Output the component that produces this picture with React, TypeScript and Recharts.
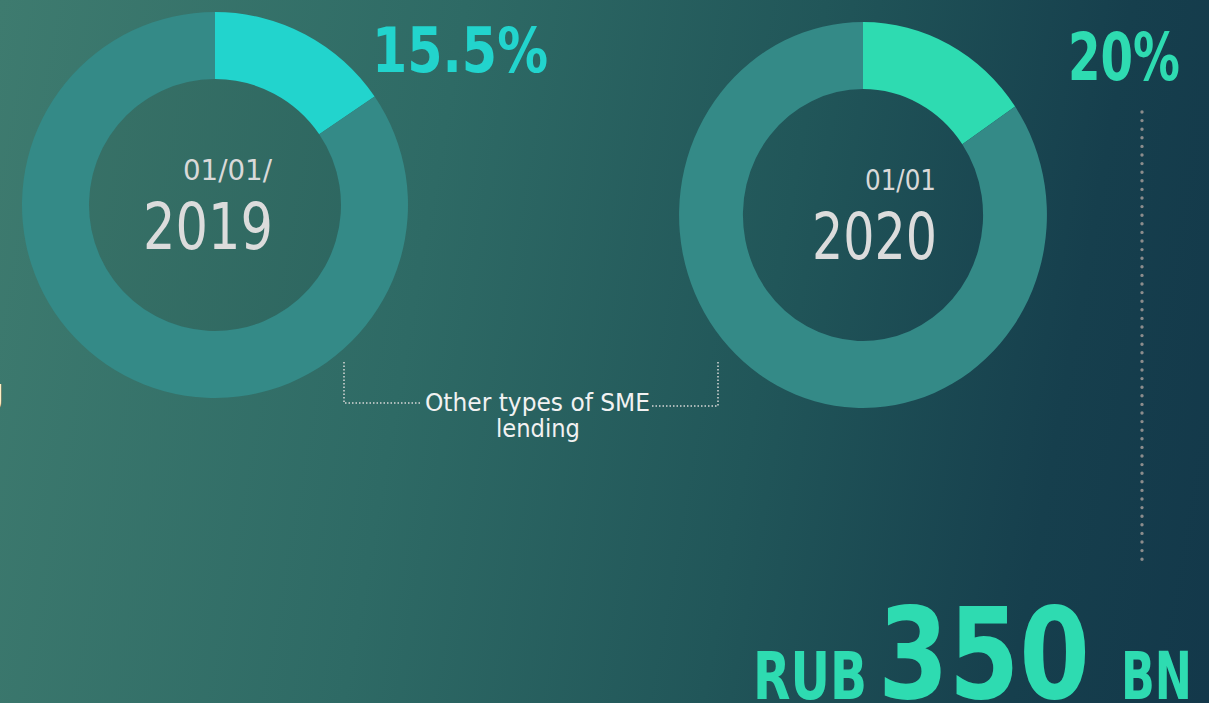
import { PieChart, Pie, Cell } from "recharts";

// share of the highlighted segment vs the rest, as drawn in the rings
const SEGMENTS = ["Highlighted segment", "Other types of SME lending"];
const VALUES_2019 = [15.5, 84.5];
const VALUES_2020 = [15.5, 84.5];
const SHARE_LABELS = ["15.5%", "20%"];
const DATE_LABELS = ["01/01/", "01/01"];
const YEAR_LABELS = ["2019", "2020"];

const RING = "#348a87";
const CYAN = "#22d4cd";
const MINT = "#2edbb1";
const FONT = "'DejaVu Sans', Verdana, sans-serif";

const toRows = (values: number[]) =>
  SEGMENTS.map((name, i) => ({ name, value: values[i] }));

function Donut({ values, accent }: { values: number[]; accent: string }) {
  return (
    <PieChart width={420} height={420}>
      <Pie
        data={toRows(values)}
        dataKey="value"
        nameKey="name"
        cx="50%"
        cy="50%"
        innerRadius={126}
        outerRadius={193}
        startAngle={90}
        endAngle={-270}
        stroke="none"
        isAnimationActive={false}
      >
        {values.map((_, i) => (
          <Cell key={i} fill={i === 0 ? accent : RING} />
        ))}
      </Pie>
    </PieChart>
  );
}

export default function App() {
  return (
    <div
      style={{
        position: "absolute",
        left: 0,
        top: 0,
        width: 1209,
        height: 703,
        overflow: "hidden",
        background:
          "linear-gradient(100deg, #3e7b6f 0%, #2e6a65 35%, #215659 62%, #163f4d 85%, #13384a 100%)",
        fontFamily: FONT,
      }}
    >
      <div style={{ position: "absolute", left: 5, top: -5 }}>
        <Donut values={VALUES_2019} accent={CYAN} />
      </div>
      <div
        style={{
          position: "absolute",
          left: 653,
          top: 5,
          transform: "scaleX(0.953)",
          transformOrigin: "center",
        }}
      >
        <Donut values={VALUES_2020} accent={MINT} />
      </div>

      <svg
        width={1209}
        height={703}
        style={{ position: "absolute", left: 0, top: 0, pointerEvents: "none" }}
      >
        <circle cx={215} cy={205} r={126} fill="#000" fillOpacity={0.05} />
        <g fontFamily={FONT}>
          {/* percentages */}
          <text x={372} y={72} fontSize={62} fontWeight={700} fill={CYAN}
            textLength={176} lengthAdjust="spacingAndGlyphs">{SHARE_LABELS[0]}</text>
          <text x={1068} y={80} fontSize={66} fontWeight={700} fill={MINT}
            textLength={112} lengthAdjust="spacingAndGlyphs">{SHARE_LABELS[1]}</text>

          {/* centre labels */}
          <text x={183} y={180} fontSize={29} fill="#d9d9d9"
            textLength={89} lengthAdjust="spacingAndGlyphs">{DATE_LABELS[0]}</text>
          <text x={143} y={249} fontSize={64} fill="#dcdcdc"
            textLength={130} lengthAdjust="spacingAndGlyphs">{YEAR_LABELS[0]}</text>
          <text x={865} y={190} fontSize={29} fill="#d9d9d9"
            textLength={71} lengthAdjust="spacingAndGlyphs">{DATE_LABELS[1]}</text>
          <text x={812} y={259} fontSize={64} fill="#dcdcdc"
            textLength={125} lengthAdjust="spacingAndGlyphs">{YEAR_LABELS[1]}</text>

          {/* bracket annotation */}
          <polyline points="344,362 344,403 422,403" fill="none" stroke="#d8d8d8"
            strokeWidth={1.5} strokeDasharray="1.5 2" />
          <polyline points="652,406 718,406 718,360" fill="none" stroke="#d8d8d8"
            strokeWidth={1.5} strokeDasharray="1.5 2" />
          <text x={425} y={411} fontSize={24} fill="#f2f2f2"
            textLength={225} lengthAdjust="spacingAndGlyphs">Other types of SME</text>
          <text x={496} y={437} fontSize={24} fill="#f2f2f2"
            textLength={84} lengthAdjust="spacingAndGlyphs">lending</text>

          {/* cropped text at left edge */}
          <text x={4} y={404} fontSize={36} fill="#ffffff" textAnchor="end">g</text>

          {/* vertical dotted divider */}
          <line x1={1142} y1={112} x2={1142} y2={560} stroke="#8c8c8c" strokeWidth={3.4}
            strokeLinecap="round" strokeDasharray="0 8.6" />

          {/* total */}
          <text x={753} y={699} fontSize={65} fontWeight={700} fill={MINT}
            textLength={114} lengthAdjust="spacingAndGlyphs">RUB</text>
          <text x={878} y={698} fontSize={127} fontWeight={700} fill={MINT}
            textLength={212} lengthAdjust="spacingAndGlyphs">350</text>
          <text x={1121} y={699} fontSize={65} fontWeight={700} fill={MINT}
            textLength={71} lengthAdjust="spacingAndGlyphs">BN</text>
        </g>
      </svg>
    </div>
  );
}
